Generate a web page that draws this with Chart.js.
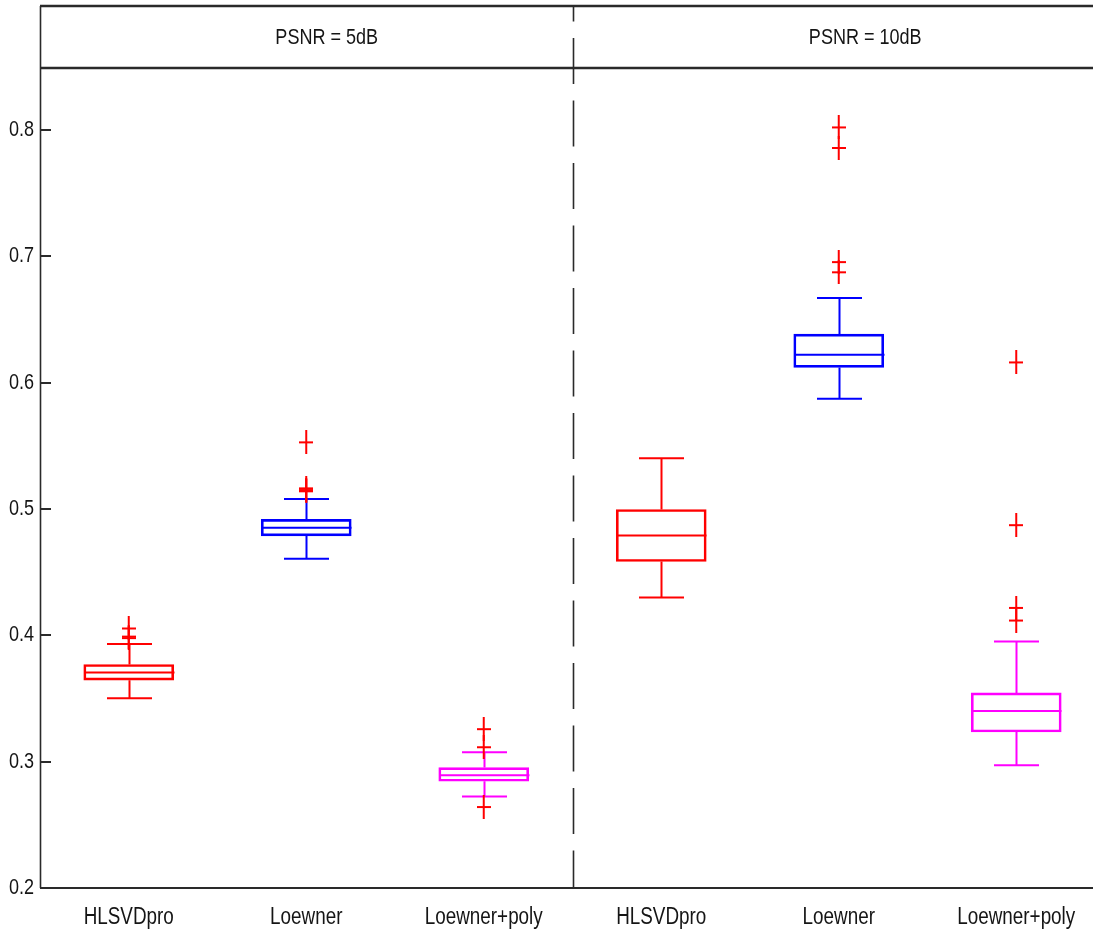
<!DOCTYPE html>
<html>
<head>
<meta charset="utf-8">
<script src="https://cdn.jsdelivr.net/npm/chart.js@4.4.1/dist/chart.umd.min.js"></script>
<style>
  html, body { margin: 0; padding: 0; background: #fff; overflow: hidden; }
  canvas { display: block; }
</style>
</head>
<body>
<canvas id="c" width="1105" height="938"></canvas>
<script>
// ---- data ----
const categories   = ['HLSVDpro', 'Loewner', 'Loewner+poly', 'HLSVDpro', 'Loewner', 'Loewner+poly'];
const panelTitles  = ['PSNR = 5dB', 'PSNR = 10dB'];
const lowerWhisker = [0.3502, 0.4605, 0.2724, 0.4300, 0.5872, 0.2972];
const q1           = [0.3645, 0.4787, 0.2845, 0.4584, 0.6120, 0.3235];
const median       = [0.3705, 0.4851, 0.2892, 0.4790, 0.6220, 0.3401];
const q3           = [0.3769, 0.4917, 0.2953, 0.4996, 0.6384, 0.3544];
const upperWhisker = [0.3932, 0.5078, 0.3074, 0.5402, 0.6669, 0.3951];
const outliers = [
  [0.4054, 0.3990, 0.3978],
  [0.5527, 0.5163, 0.5150, 0.5140],
  [0.3257, 0.3114, 0.2641],
  [],
  [0.8020, 0.7857, 0.6954, 0.6873],
  [0.6160, 0.4872, 0.4217, 0.4117]
];
const yTicks = [0.2, 0.3, 0.4, 0.5, 0.6, 0.7, 0.8];

// ---- styles ----
const boxColors = ['#ff0000', '#0000ff', '#ff00ff', '#ff0000', '#0000ff', '#ff00ff'];
const FONT = '"Liberation Sans", Arial, sans-serif';
const NARROW = 0.82;
const AXIS = '#2a2a2a';
const TEXT = '#151515';

const slots = categories.map((_, i) => i);

const cross = document.createElement('canvas');
cross.width = 14; cross.height = 24;
(function () {
  const g = cross.getContext('2d');
  g.strokeStyle = '#ff0000'; g.lineWidth = 2;
  g.beginPath();
  g.moveTo(7, 0); g.lineTo(7, 24);
  g.moveTo(0, 12); g.lineTo(14, 12);
  g.stroke();
})();

const outlierPoints = [];
outliers.forEach((arr, i) => arr.forEach(v => outlierPoints.push({ x: slots[i], y: v })));

function narrowText(ctx, text, x, y, size, align) {
  ctx.save();
  ctx.translate(x, y);
  ctx.scale(NARROW, 1);
  ctx.font = size + 'px ' + FONT;
  ctx.fillStyle = TEXT;
  ctx.textAlign = align;
  ctx.textBaseline = 'middle';
  ctx.fillText(text, 0, 0);
  ctx.restore();
}

const boxPlugin = {
  id: 'boxExtras',
  beforeDatasetsDraw(chart) {
    const { ctx, scales: { x, y } } = chart;
    ctx.save();
    ctx.lineWidth = 2;
    for (let i = 0; i < categories.length; i++) {
      const cx = Math.round(x.getPixelForValue(i)) + 0.5;
      ctx.strokeStyle = boxColors[i];
      const yLo = y.getPixelForValue(lowerWhisker[i]);
      const yHi = y.getPixelForValue(upperWhisker[i]);
      const yQ1 = y.getPixelForValue(q1[i]);
      const yQ3 = y.getPixelForValue(q3[i]);
      const yMd = y.getPixelForValue(median[i]);
      ctx.beginPath();
      ctx.moveTo(cx, yHi); ctx.lineTo(cx, yQ3);
      ctx.moveTo(cx, yQ1); ctx.lineTo(cx, yLo);
      ctx.moveTo(cx - 22.5, yHi); ctx.lineTo(cx + 22.5, yHi);
      ctx.moveTo(cx - 22.5, yLo); ctx.lineTo(cx + 22.5, yLo);
      ctx.moveTo(cx - 45, yMd); ctx.lineTo(cx + 45, yMd);
      ctx.stroke();
    }
    ctx.restore();
  },
  afterDraw(chart) {
    const { ctx, chartArea: ca, scales: { x, y } } = chart;
    const W = chart.width;
    const headerTop = 6;
    ctx.save();
    ctx.strokeStyle = AXIS;
    ctx.lineWidth = 2.6;
    ctx.beginPath();
    ctx.moveTo(ca.left, headerTop); ctx.lineTo(W, headerTop);
    ctx.moveTo(ca.left, ca.top); ctx.lineTo(W, ca.top);
    ctx.stroke();
    ctx.lineWidth = 2;
    ctx.beginPath();
    ctx.moveTo(ca.left, ca.bottom); ctx.lineTo(W, ca.bottom);
    ctx.stroke();
    ctx.lineWidth = 1.6;
    ctx.beginPath();
    ctx.moveTo(ca.left + 0.5, headerTop); ctx.lineTo(ca.left + 0.5, ca.bottom);
    ctx.stroke();
    ctx.lineWidth = 2;
    ctx.beginPath();
    y.ticks.forEach(t => {
      const py = Math.round(y.getPixelForValue(t.value));
      ctx.moveTo(ca.left, py); ctx.lineTo(ca.left + 11, py);
    });
    ctx.stroke();
    const sepX = Math.round((x.getPixelForValue(2) + x.getPixelForValue(3)) / 2) + 0.5;
    ctx.lineWidth = 1.6;
    ctx.setLineDash([46, 16.5]);
    ctx.lineDashOffset = 30.5;
    ctx.beginPath();
    ctx.moveTo(sepX, headerTop); ctx.lineTo(sepX, ca.bottom);
    ctx.stroke();
    ctx.setLineDash([]);
    y.ticks.forEach(t => {
      narrowText(ctx, String(Math.round(t.value * 10) / 10), ca.left - 6, y.getPixelForValue(t.value), 22, 'right');
    });
    x.ticks.forEach(t => {
      narrowText(ctx, categories[t.value], x.getPixelForValue(t.value), ca.bottom + 30, 23, 'center');
    });
    const midY = (headerTop + ca.top) / 2 + 1;
    narrowText(ctx, panelTitles[0], (ca.left + sepX) / 2 + 20, midY, 22, 'center');
    narrowText(ctx, panelTitles[1], (sepX + ca.right) / 2 + 26, midY, 22, 'center');
    ctx.restore();
  }
};

new Chart(document.getElementById('c'), {
  type: 'bar',
  data: {
    labels: slots,
    datasets: [
      {
        type: 'line',
        data: outlierPoints,
        showLine: false,
        pointStyle: cross,
        pointRadius: 7,
        pointHoverRadius: 7,
        order: 0
      },
      {
        type: 'bar',
        data: slots.map(i => [q1[i], q3[i]]),
        backgroundColor: 'rgba(0,0,0,0)',
        borderColor: boxColors,
        borderWidth: 2,
        borderSkipped: false,
        barThickness: 90,
        order: 1
      }
    ]
  },
  options: {
    responsive: false,
    animation: false,
    devicePixelRatio: 1,
    layout: { autoPadding: false, padding: { top: 68, right: 0, left: 0, bottom: 0 } },
    plugins: { legend: { display: false }, tooltip: { enabled: false } },
    scales: {
      x: {
        type: 'category',
        grid: { display: false, drawTicks: false },
        border: { display: false },
        ticks: { display: false, autoSkip: false },
        afterFit(s) { s.height = 50; }
      },
      y: {
        min: 0.2,
        max: 0.849,
        grid: { display: false, drawTicks: false },
        border: { display: false },
        afterBuildTicks(s) { s.ticks = yTicks.map(v => ({ value: v })); },
        ticks: { display: false },
        afterFit(s) { s.width = 40; }
      }
    }
  },
  plugins: [boxPlugin]
});
</script>
</body>
</html>
